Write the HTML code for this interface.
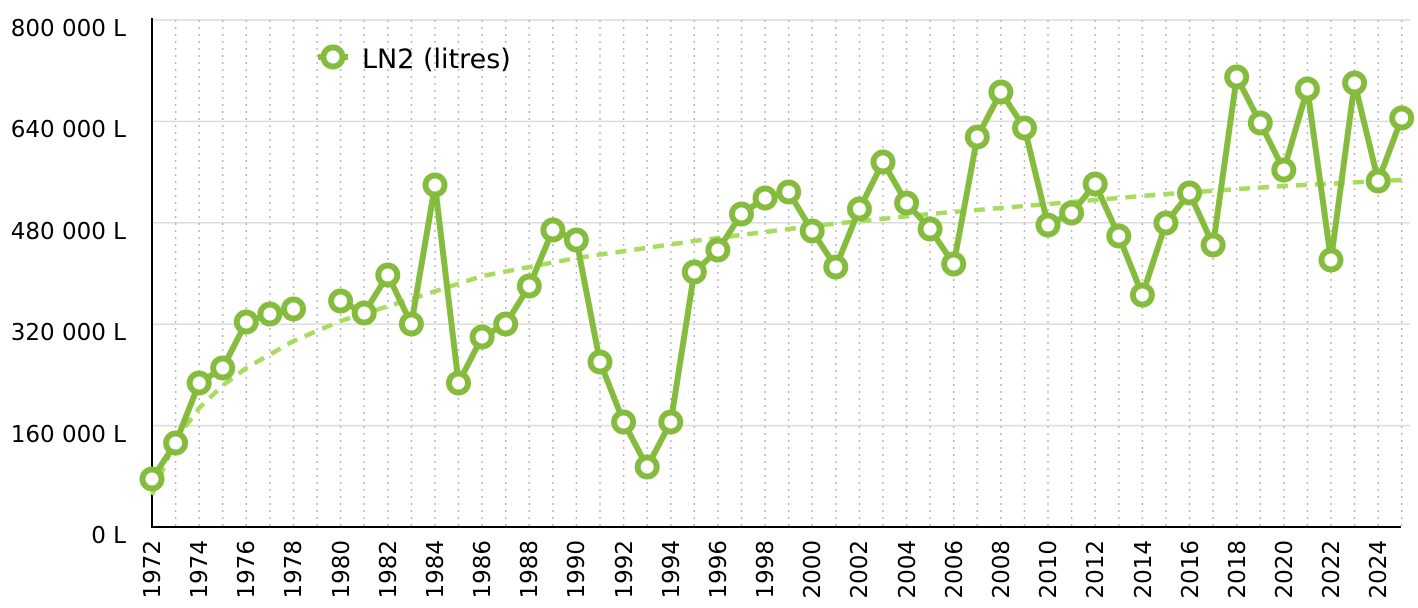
<!DOCTYPE html>
<html><head><meta charset="utf-8"><style>
html,body{margin:0;padding:0;background:#fff;}
svg{display:block;font-family:"DejaVu Sans","Liberation Sans",sans-serif;}
</style></head><body>
<svg width="1418" height="608" viewBox="0 0 1418 608" xmlns="http://www.w3.org/2000/svg">
<g stroke="#dcdcdc" stroke-width="1.5">
<line x1="152" y1="20" x2="1410" y2="20"/><line x1="152" y1="121.4" x2="1410" y2="121.4"/>
<line x1="152" y1="222.8" x2="1410" y2="222.8"/><line x1="152" y1="324.2" x2="1410" y2="324.2"/>
<line x1="152" y1="425.6" x2="1410" y2="425.6"/>
</g>
<g stroke="#b8b8b8" stroke-width="1.5" stroke-dasharray="2 5">
<line x1="175.6" y1="20" x2="175.6" y2="527"/><line x1="199.2" y1="20" x2="199.2" y2="527"/><line x1="222.7" y1="20" x2="222.7" y2="527"/><line x1="246.3" y1="20" x2="246.3" y2="527"/><line x1="269.9" y1="20" x2="269.9" y2="527"/><line x1="293.5" y1="20" x2="293.5" y2="527"/><line x1="317.1" y1="20" x2="317.1" y2="527"/><line x1="340.6" y1="20" x2="340.6" y2="527"/><line x1="364.2" y1="20" x2="364.2" y2="527"/><line x1="387.8" y1="20" x2="387.8" y2="527"/><line x1="411.4" y1="20" x2="411.4" y2="527"/><line x1="435" y1="20" x2="435" y2="527"/><line x1="458.5" y1="20" x2="458.5" y2="527"/><line x1="482.1" y1="20" x2="482.1" y2="527"/><line x1="505.7" y1="20" x2="505.7" y2="527"/><line x1="529.3" y1="20" x2="529.3" y2="527"/><line x1="552.9" y1="20" x2="552.9" y2="527"/><line x1="576.4" y1="20" x2="576.4" y2="527"/><line x1="600" y1="20" x2="600" y2="527"/><line x1="623.6" y1="20" x2="623.6" y2="527"/><line x1="647.2" y1="20" x2="647.2" y2="527"/><line x1="670.8" y1="20" x2="670.8" y2="527"/><line x1="694.3" y1="20" x2="694.3" y2="527"/><line x1="717.9" y1="20" x2="717.9" y2="527"/><line x1="741.5" y1="20" x2="741.5" y2="527"/><line x1="765.1" y1="20" x2="765.1" y2="527"/><line x1="788.7" y1="20" x2="788.7" y2="527"/><line x1="812.2" y1="20" x2="812.2" y2="527"/><line x1="835.8" y1="20" x2="835.8" y2="527"/><line x1="859.4" y1="20" x2="859.4" y2="527"/><line x1="883" y1="20" x2="883" y2="527"/><line x1="906.6" y1="20" x2="906.6" y2="527"/><line x1="930.1" y1="20" x2="930.1" y2="527"/><line x1="953.7" y1="20" x2="953.7" y2="527"/><line x1="977.3" y1="20" x2="977.3" y2="527"/><line x1="1000.9" y1="20" x2="1000.9" y2="527"/><line x1="1024.5" y1="20" x2="1024.5" y2="527"/><line x1="1048" y1="20" x2="1048" y2="527"/><line x1="1071.6" y1="20" x2="1071.6" y2="527"/><line x1="1095.2" y1="20" x2="1095.2" y2="527"/><line x1="1118.8" y1="20" x2="1118.8" y2="527"/><line x1="1142.4" y1="20" x2="1142.4" y2="527"/><line x1="1165.9" y1="20" x2="1165.9" y2="527"/><line x1="1189.5" y1="20" x2="1189.5" y2="527"/><line x1="1213.1" y1="20" x2="1213.1" y2="527"/><line x1="1236.7" y1="20" x2="1236.7" y2="527"/><line x1="1260.3" y1="20" x2="1260.3" y2="527"/><line x1="1283.8" y1="20" x2="1283.8" y2="527"/><line x1="1307.4" y1="20" x2="1307.4" y2="527"/><line x1="1331" y1="20" x2="1331" y2="527"/><line x1="1354.6" y1="20" x2="1354.6" y2="527"/><line x1="1378.2" y1="20" x2="1378.2" y2="527"/><line x1="1401.7" y1="20" x2="1401.7" y2="527"/>
</g>
<line x1="152" y1="18" x2="152" y2="528" stroke="#000" stroke-width="2"/>
<line x1="151" y1="527" x2="1401" y2="527" stroke="#000" stroke-width="2"/>
<g font-size="23" fill="#000" text-anchor="end">
<text x="126" y="36">800 000 L</text><text x="126" y="137">640 000 L</text>
<text x="126" y="239">480 000 L</text><text x="126" y="340">320 000 L</text>
<text x="126" y="442">160 000 L</text><text x="126" y="543">0 L</text>
</g>
<g font-size="23" fill="#000" text-anchor="end">
<text transform="translate(160,540) rotate(-90)">1972</text><text transform="translate(207,540) rotate(-90)">1974</text><text transform="translate(254,540) rotate(-90)">1976</text><text transform="translate(301,540) rotate(-90)">1978</text><text transform="translate(349,540) rotate(-90)">1980</text><text transform="translate(396,540) rotate(-90)">1982</text><text transform="translate(443,540) rotate(-90)">1984</text><text transform="translate(490,540) rotate(-90)">1986</text><text transform="translate(537,540) rotate(-90)">1988</text><text transform="translate(584,540) rotate(-90)">1990</text><text transform="translate(632,540) rotate(-90)">1992</text><text transform="translate(679,540) rotate(-90)">1994</text><text transform="translate(726,540) rotate(-90)">1996</text><text transform="translate(773,540) rotate(-90)">1998</text><text transform="translate(820,540) rotate(-90)">2000</text><text transform="translate(867,540) rotate(-90)">2002</text><text transform="translate(915,540) rotate(-90)">2004</text><text transform="translate(962,540) rotate(-90)">2006</text><text transform="translate(1009,540) rotate(-90)">2008</text><text transform="translate(1056,540) rotate(-90)">2010</text><text transform="translate(1103,540) rotate(-90)">2012</text><text transform="translate(1151,540) rotate(-90)">2014</text><text transform="translate(1198,540) rotate(-90)">2016</text><text transform="translate(1245,540) rotate(-90)">2018</text><text transform="translate(1292,540) rotate(-90)">2020</text><text transform="translate(1339,540) rotate(-90)">2022</text><text transform="translate(1386,540) rotate(-90)">2024</text>
</g>
<polyline fill="none" stroke="#a8dc5c" stroke-width="4.5" stroke-dasharray="11 8" points="152,495 175.6,440 199.2,408 222.7,385.5 246.3,368 293.5,341 340.6,321 411.4,299 482.1,276 576.4,258 694.3,241 812.2,226 930.1,214 1048,204 1165.9,194 1283.8,186 1401.7,180"/>
<g fill="none" stroke="#86bc3e" stroke-width="6" stroke-linejoin="round">
<polyline points="152,479 175.6,443 199.2,383 222.7,368 246.3,322 269.9,314 293.5,309"/>
<polyline points="340.6,301 364.2,313 387.8,275 411.4,324 435,185 458.5,383 482.1,337 505.7,324 529.3,286 552.9,230 576.4,240 600,362 623.6,422 647.2,467 670.8,422 694.3,272 717.9,250 741.5,214 765.1,198 788.7,192 812.2,231 835.8,267 859.4,209 883,162 906.6,203 930.1,229 953.7,264 977.3,137 1000.9,92 1024.5,128 1048,225 1071.6,213 1095.2,184 1118.8,236 1142.4,295 1165.9,223 1189.5,193 1213.1,245 1236.7,77 1260.3,123 1283.8,170 1307.4,89 1331,260 1354.6,83 1378.2,181 1401.7,118"/>
</g>
<g fill="#fff" stroke="#86bc3e" stroke-width="6">
<circle cx="152" cy="479" r="9.5"/><circle cx="175.6" cy="443" r="9.5"/><circle cx="199.2" cy="383" r="9.5"/><circle cx="222.7" cy="368" r="9.5"/><circle cx="246.3" cy="322" r="9.5"/><circle cx="269.9" cy="314" r="9.5"/><circle cx="293.5" cy="309" r="9.5"/><circle cx="340.6" cy="301" r="9.5"/><circle cx="364.2" cy="313" r="9.5"/><circle cx="387.8" cy="275" r="9.5"/><circle cx="411.4" cy="324" r="9.5"/><circle cx="435" cy="185" r="9.5"/><circle cx="458.5" cy="383" r="9.5"/><circle cx="482.1" cy="337" r="9.5"/><circle cx="505.7" cy="324" r="9.5"/><circle cx="529.3" cy="286" r="9.5"/><circle cx="552.9" cy="230" r="9.5"/><circle cx="576.4" cy="240" r="9.5"/><circle cx="600" cy="362" r="9.5"/><circle cx="623.6" cy="422" r="9.5"/><circle cx="647.2" cy="467" r="9.5"/><circle cx="670.8" cy="422" r="9.5"/><circle cx="694.3" cy="272" r="9.5"/><circle cx="717.9" cy="250" r="9.5"/><circle cx="741.5" cy="214" r="9.5"/><circle cx="765.1" cy="198" r="9.5"/><circle cx="788.7" cy="192" r="9.5"/><circle cx="812.2" cy="231" r="9.5"/><circle cx="835.8" cy="267" r="9.5"/><circle cx="859.4" cy="209" r="9.5"/><circle cx="883" cy="162" r="9.5"/><circle cx="906.6" cy="203" r="9.5"/><circle cx="930.1" cy="229" r="9.5"/><circle cx="953.7" cy="264" r="9.5"/><circle cx="977.3" cy="137" r="9.5"/><circle cx="1000.9" cy="92" r="9.5"/><circle cx="1024.5" cy="128" r="9.5"/><circle cx="1048" cy="225" r="9.5"/><circle cx="1071.6" cy="213" r="9.5"/><circle cx="1095.2" cy="184" r="9.5"/><circle cx="1118.8" cy="236" r="9.5"/><circle cx="1142.4" cy="295" r="9.5"/><circle cx="1165.9" cy="223" r="9.5"/><circle cx="1189.5" cy="193" r="9.5"/><circle cx="1213.1" cy="245" r="9.5"/><circle cx="1236.7" cy="77" r="9.5"/><circle cx="1260.3" cy="123" r="9.5"/><circle cx="1283.8" cy="170" r="9.5"/><circle cx="1307.4" cy="89" r="9.5"/><circle cx="1331" cy="260" r="9.5"/><circle cx="1354.6" cy="83" r="9.5"/><circle cx="1378.2" cy="181" r="9.5"/><circle cx="1401.7" cy="118" r="9.5"/>
</g>
<line x1="318" y1="57" x2="348" y2="57" stroke="#86bc3e" stroke-width="6"/>
<circle cx="333" cy="57" r="9.5" fill="#fff" stroke="#86bc3e" stroke-width="6"/>
<text x="362" y="68" font-size="27" fill="#000">LN2 (litres)</text>
</svg>
</body></html>
